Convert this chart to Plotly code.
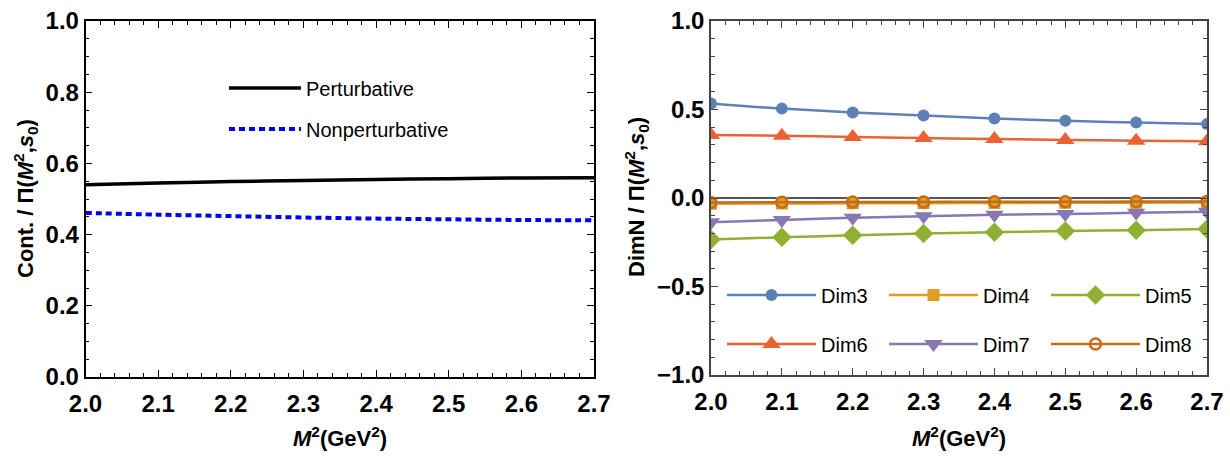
import plotly.graph_objects as go

# ---------------- data ----------------
m2 = [2.0, 2.1, 2.2, 2.3, 2.4, 2.5, 2.6, 2.7]

pert = [0.540, 0.545, 0.549, 0.552, 0.555, 0.557, 0.559, 0.560]
nonpert = [0.461, 0.456, 0.452, 0.448, 0.445, 0.443, 0.441, 0.440]

dim3 = [0.534, 0.505, 0.483, 0.466, 0.449, 0.437, 0.426, 0.418]
dim4 = [-0.032, -0.031, -0.030, -0.029, -0.028, -0.027, -0.027, -0.026]
dim5 = [-0.235, -0.222, -0.211, -0.201, -0.194, -0.186, -0.182, -0.175]
dim6 = [0.356, 0.352, 0.345, 0.339, 0.333, 0.328, 0.324, 0.320]
dim7 = [-0.137, -0.124, -0.112, -0.103, -0.095, -0.090, -0.084, -0.078]
dim8 = [-0.025, -0.024, -0.023, -0.022, -0.021, -0.021, -0.020, -0.020]

x_ticks = [2.0, 2.1, 2.2, 2.3, 2.4, 2.5, 2.6, 2.7]
y_ticks_left = [0.0, 0.2, 0.4, 0.6, 0.8, 1.0]
y_ticks_right = [-1.0, -0.5, 0.0, 0.5, 1.0]

FONT = "Liberation Sans Narrow, Liberation Sans, Arial, sans-serif"
W, H = 1230, 459

fig = go.Figure()

# left panel
fig.add_trace(go.Scatter(x=m2, y=pert, mode="lines", name="Perturbative",
                         line=dict(color="black", width=3.5, shape="spline"),
                         xaxis="x", yaxis="y", legend="legend", legendgroup="p"))
fig.add_trace(go.Scatter(x=m2, y=nonpert, mode="lines", name="Nonperturbative",
                         line=dict(color="#0000ee", width=4, dash="6px,4px", shape="spline"),
                         xaxis="x", yaxis="y", legend="legend", legendgroup="np"))

# right panel
series = [
    ("Dim3", dim3, "#5E81B5", dict(symbol="circle", size=12), "legend2"),
    ("Dim4", dim4, "#E19C24", dict(symbol="square", size=12), "legend2"),
    ("Dim5", dim5, "#8FB032", dict(symbol="diamond", size=15), "legend2"),
    ("Dim6", dim6, "#EB6235", dict(symbol="triangle-up", size=16), "legend3"),
    ("Dim7", dim7, "#8778B3", dict(symbol="triangle-down", size=16), "legend3"),
    ("Dim8", dim8, "#C56E1A", dict(symbol="circle-open", size=11,
                                   line=dict(width=2.5, color="#C56E1A")), "legend3"),
]
for name, vals, col, mk, lg in series:
    fig.add_trace(go.Scatter(x=m2, y=vals, mode="lines+markers", name=name,
                             line=dict(color=col, width=2.5, shape="spline"),
                             marker=dict(color=col, **mk),
                             xaxis="x2", yaxis="y2", legend=lg))

x0L, x1L = 85.5 / W, 594 / W
x0R, x1R = 711 / W, 1207 / W
yb = (H - 377) / H
yt = (H - 21) / H
ybR = (H - 375) / H

tickfont = dict(family=FONT, size=24, color="black", weight="bold")

def xax(dom, anchor, col):
    return dict(domain=dom, anchor=anchor, range=[2.0, 2.7], tickvals=x_ticks,
                ticktext=[f"{v:.1f}" for v in x_ticks], ticks="inside", ticklen=7,
                tickwidth=1.2, tickcolor=col, showline=True, linecolor=col, linewidth=1.5,
                mirror="ticks", showgrid=False, zeroline=False, tickfont=tickfont,
                automargin=False, ticklabelstandoff=4,
                minor=dict(dtick=0.02, tick0=2.0, ticks="inside", ticklen=4, tickcolor=col,
                           tickwidth=1, showgrid=False))

leg_font = dict(family=FONT, size=20, color="black")

fig.update_layout(
    width=W, height=H,
    margin=dict(l=0, r=0, t=0, b=0, autoexpand=False),
    paper_bgcolor="white", plot_bgcolor="white",
    showlegend=True,
    xaxis=xax([x0L, x1L], "y", "black"),
    yaxis=dict(domain=[yb, yt], anchor="x", range=[0, 1], tickvals=y_ticks_left,
               ticktext=[f"{v:.1f}" for v in y_ticks_left], ticks="inside", ticklen=7,
               tickwidth=1.2, tickcolor="black", showline=True, linecolor="black", linewidth=1.5,
               mirror="ticks", showgrid=False, zeroline=False, tickfont=tickfont,
               automargin=False,
               minor=dict(dtick=0.05, tick0=0, ticks="inside", ticklen=4, tickcolor="black",
                          tickwidth=1, showgrid=False)),
    xaxis2=xax([x0R, x1R], "y2", "#444444"),
    yaxis2=dict(domain=[ybR, yt], anchor="x2", range=[-1, 1], tickvals=y_ticks_right,
                ticktext=["\u22121.0", "\u22120.5", "0.0", "0.5", "1.0"], ticks="inside", ticklen=7,
                tickwidth=1.2, tickcolor="#444444", showline=True, linecolor="#444444", linewidth=1.5,
                mirror="ticks", showgrid=False, zeroline=True, zerolinecolor="#555555",
                zerolinewidth=1.5, tickfont=tickfont, automargin=False,
                minor=dict(dtick=0.1, tick0=0, ticks="inside", ticklen=4, tickcolor="#444444",
                           tickwidth=1, showgrid=False)),
    legend=dict(x=224 / W, y=(H - 68.5) / H, xanchor="left", yanchor="top",
                bgcolor="rgba(0,0,0,0)", itemwidth=72, tracegroupgap=12,
                font=leg_font),
    legend2=dict(x=722 / W, y=(H - 275.5) / H, xanchor="left", yanchor="top",
                 orientation="h", bgcolor="rgba(0,0,0,0)", itemwidth=89,
                 entrywidth=58, entrywidthmode="pixels", font=leg_font),
    legend3=dict(x=722 / W, y=(H - 324.5) / H, xanchor="left", yanchor="top",
                 orientation="h", bgcolor="rgba(0,0,0,0)", itemwidth=89,
                 entrywidth=58, entrywidthmode="pixels", font=leg_font),
)

title_font = dict(family=FONT, size=22, color="black", weight="bold")
fig.add_annotation(xref="paper", yref="paper", x=(x0L + x1L) / 2, y=(H - 437) / H,
                   text="<b><i>M</i><sup>2</sup>(GeV<sup>2</sup>)</b>", showarrow=False,
                   font=title_font, xanchor="center", yanchor="middle")
fig.add_annotation(xref="paper", yref="paper", x=(x0R + x1R) / 2, y=(H - 437) / H,
                   text="<b><i>M</i><sup>2</sup>(GeV<sup>2</sup>)</b>", showarrow=False,
                   font=title_font, xanchor="center", yanchor="middle")
fig.add_annotation(xref="paper", yref="paper", x=25 / W, y=(H - 199) / H,
                   text="<b>Cont. / \u03a0(<i>M</i><sup>2</sup>,<i>s</i><sub>0</sub>)</b>",
                   showarrow=False, textangle=-90, font=title_font,
                   xanchor="center", yanchor="middle")
fig.add_annotation(xref="paper", yref="paper", x=636 / W, y=(H - 197) / H,
                   text="<b>DimN / \u03a0(<i>M</i><sup>2</sup>,<i>s</i><sub>0</sub>)</b>",
                   showarrow=False, textangle=-90, font=title_font,
                   xanchor="center", yanchor="middle")

fig.write_html("out.html", config={"displayModeBar": False},
               post_script="document.body.style.margin='0';document.body.style.overflow='hidden';")
